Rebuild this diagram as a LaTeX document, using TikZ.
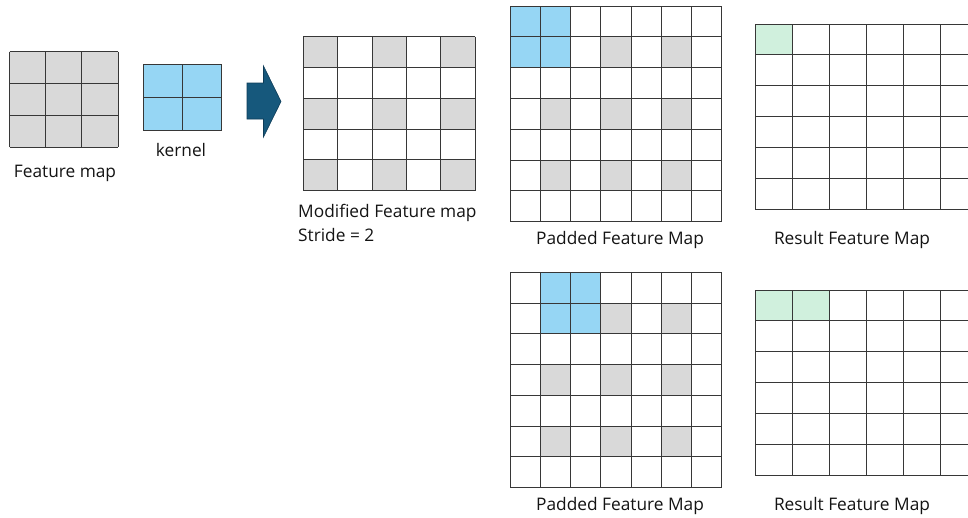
\documentclass[tikz,border=0pt]{standalone}
\usepackage{fontspec}
\setmainfont{Open Sans}
\definecolor{gridc}{RGB}{55,55,55}
\definecolor{grayc}{RGB}{217,217,217}
\definecolor{bluec}{RGB}{150,214,244}
\definecolor{greenc}{RGB}{208,240,221}
\definecolor{arrowc}{RGB}{22,88,124}
\definecolor{arrowd}{RGB}{14,60,88}
\tikzset{
  gridline/.style={draw=gridc,line width=0.9pt},
  lbl/.style={inner sep=0pt,font=\fontsize{17.3}{20}\selectfont,text=black!92},
}
% #1 columns, #2 rows, #3 horizontal line length (in cells)
\newcommand\cellgrid[3]{%
  \foreach \ci in {0,...,#1}{\draw[gridline] (\ci,0) -- (\ci,#2);}%
  \foreach \cj in {0,...,#2}{\draw[gridline] (0,\cj) -- (#3,\cj);}%
}
\begin{document}
\begin{tikzpicture}[x=1pt,y=-1pt]
\useasboundingbox[fill=white] (0,0) rectangle (968,517);
% Feature map 3x3
\begin{scope}[shift={(9.5,51.7)},x=36.2pt,y=-31.9pt]
  \fill[grayc] (0,0) rectangle (3,3);
  \cellgrid{3}{3}{3}
\end{scope}
% kernel 2x2
\begin{scope}[shift={(143.3,64)},x=39.2pt,y=-33pt]
  \fill[bluec] (0,0) rectangle (2,2);
  \cellgrid{2}{2}{2}
\end{scope}
% arrow
\draw[fill=arrowc,draw=arrowd,line width=0.6pt,line join=miter]
  (247,83) -- (263.5,83) -- (263.5,66) -- (281,101.5) -- (263.5,137) -- (263.5,119) -- (247,119) -- cycle;
% Modified feature map 5x5
\begin{scope}[shift={(303.3,36.7)},x=34.34pt,y=-30.8pt]
  \foreach \i in {0,2,4}{\foreach \j in {0,2,4}{\fill[grayc] (\i,\j) rectangle ++(1,1);}}
  \cellgrid{5}{5}{5}
\end{scope}
% Padded top 7x7
\begin{scope}[shift={(510,6)},x=30.24pt,y=-30.81pt]
  \foreach \i in {1,3,5}{\foreach \j in {1,3,5}{\fill[grayc] (\i,\j) rectangle ++(1,1);}}
  \fill[bluec] (0,0) rectangle (2,2);
  \cellgrid{7}{7}{7}
\end{scope}
% Padded bottom 7x7
\begin{scope}[shift={(510,272.3)},x=30.24pt,y=-30.77pt]
  \foreach \i in {1,3,5}{\foreach \j in {1,3,5}{\fill[grayc] (\i,\j) rectangle ++(1,1);}}
  \fill[bluec] (1,0) rectangle (3,2);
  \cellgrid{7}{7}{7}
\end{scope}
% Result top
\begin{scope}[shift={(755,24)},x=37pt,y=-30.83pt]
  \fill[greenc] (0,0) rectangle (1,1);
  \cellgrid{5}{6}{5.76}
\end{scope}
% Result bottom
\begin{scope}[shift={(755,290)},x=37pt,y=-30.83pt]
  \fill[greenc] (0,0) rectangle (2,1);
  \cellgrid{5}{6}{5.76}
\end{scope}
% labels
\node[lbl] (lfm) at (65,173) {Feature map};
\node[lbl] (lk) at (181,150) {kernel};
\node[lbl,anchor=west] (lmod) at (298,213) {Modified Feature map};
\node[lbl,anchor=west] (lstr) at (298,235) {Stride = 2};
\node[lbl] (lpt) at (620,240) {Padded Feature Map};
\node[lbl] (lrt) at (852,240) {Result Feature Map};
\node[lbl] (lpb) at (620,506) {Padded Feature Map};
\node[lbl] (lrb) at (852,506) {Result Feature Map};
\end{tikzpicture}
\end{document}
